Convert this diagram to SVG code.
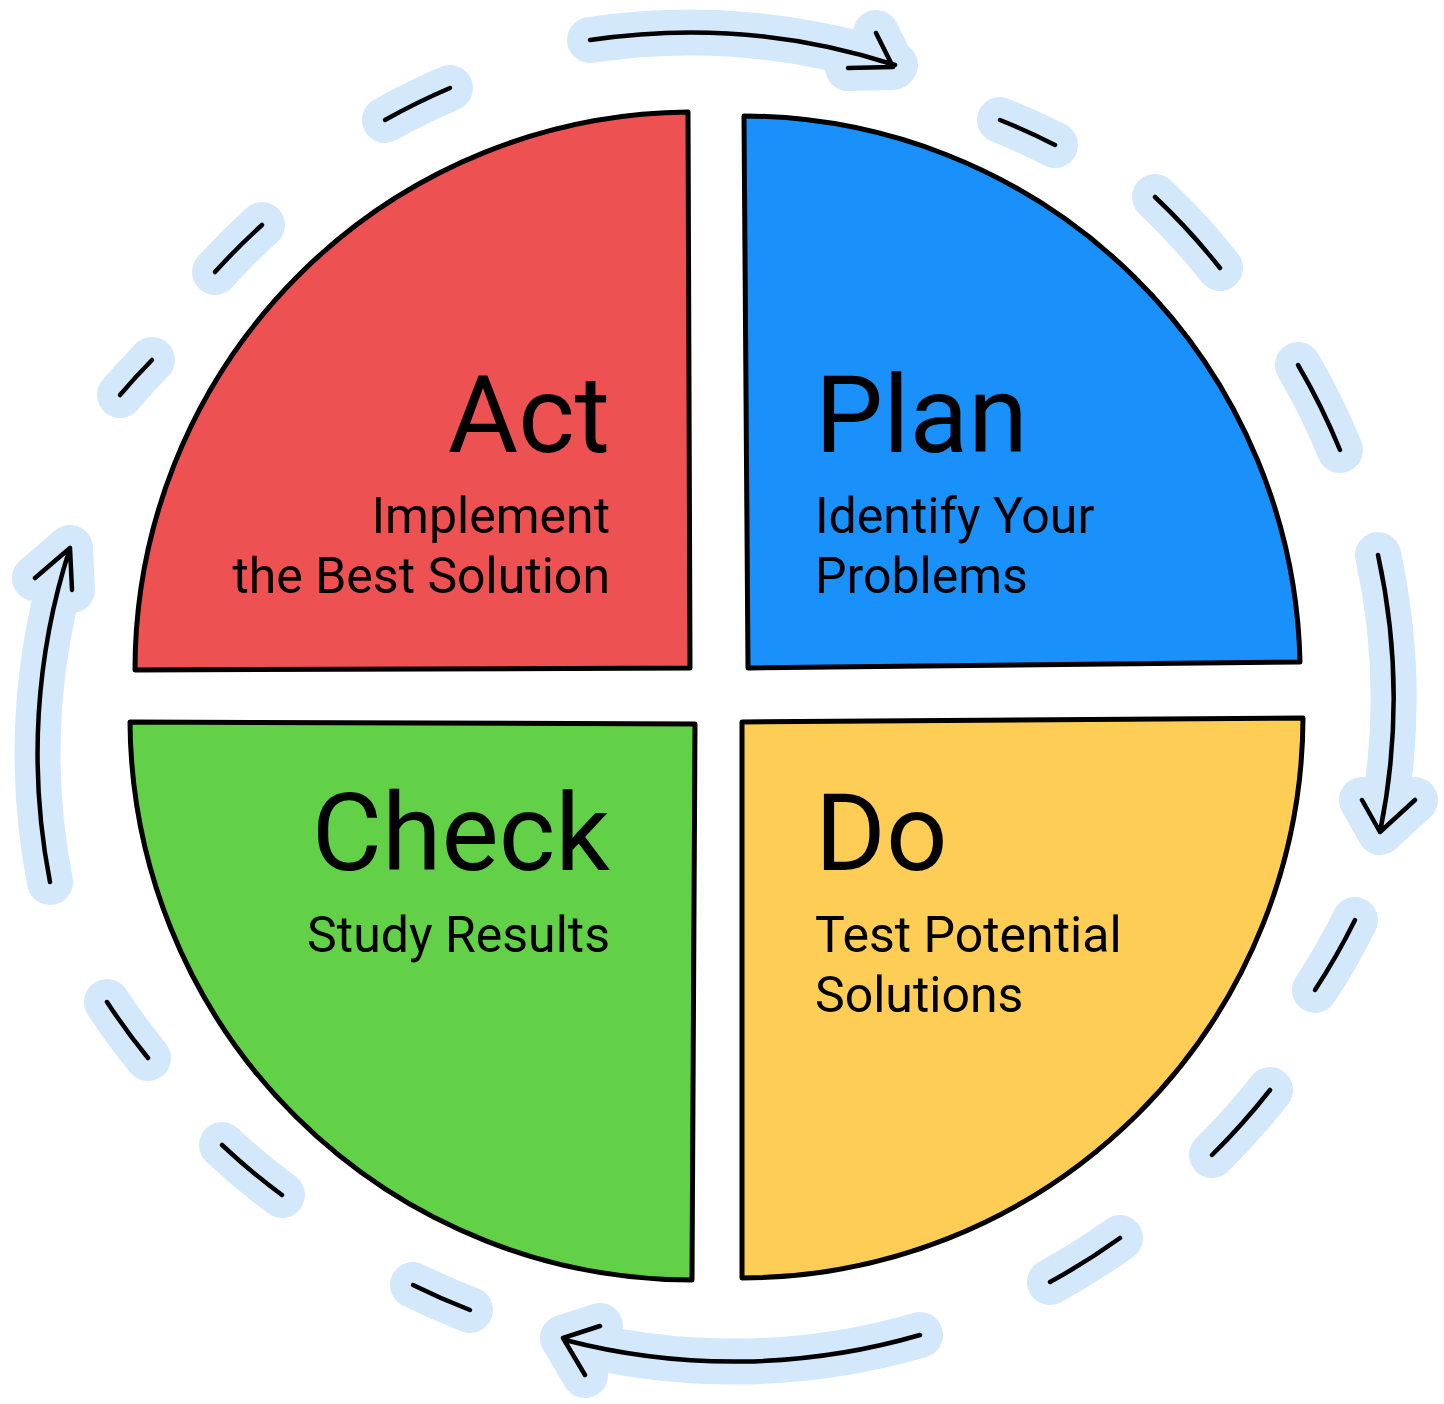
<svg xmlns="http://www.w3.org/2000/svg" width="1444" height="1404" viewBox="0 0 1444 1404">
<style>
.q{stroke:#000;stroke-width:5;stroke-linejoin:round}
.h{fill:none;stroke:#D4E8FB;stroke-width:46;stroke-linecap:round;stroke-linejoin:round}
.l{fill:none;stroke:#000;stroke-width:4.5;stroke-linecap:round;stroke-linejoin:round}
.t{font-family:Roboto,"Liberation Sans",sans-serif;fill:#000}
.big{font-size:108px}
.sm{font-size:50px}
</style>
<rect width="1444" height="1404" fill="#fff"/>
<defs>
<g id="ring">
<path d="M590,40 A668,668 0 0 1 895,65 M848,68 L893,67 L876,33"/>
<path d="M1378,555 A668,668 0 0 1 1380,832 M1362,800 L1380,832 L1415,800"/>
<path d="M920,1335 A668,668 0 0 1 565,1340 M600,1326 L563,1338 L585,1375"/>
<path d="M50,882 A668,668 0 0 1 70,548 M35,578 L70,548 L72,590"/>
<path d="M1000,120 A668,668 0 0 1 1055,145"/>
<path d="M1155,197 A668,668 0 0 1 1220,268"/>
<path d="M1298,365 A668,668 0 0 1 1340,450"/>
<path d="M1355,920 A668,668 0 0 1 1315,990"/>
<path d="M1270,1090 A668,668 0 0 1 1212,1155"/>
<path d="M1120,1238 A668,668 0 0 1 1050,1282"/>
<path d="M470,1310 A668,668 0 0 1 413,1285"/>
<path d="M282,1195 A668,668 0 0 1 222,1145"/>
<path d="M148,1058 A668,668 0 0 1 107,1002"/>
<path d="M120,395 A668,668 0 0 1 152,360"/>
<path d="M215,272 A668,668 0 0 1 262,225"/>
<path d="M385,120 A668,668 0 0 1 450,88"/>
</g>
</defs>
<g id="connectors">
<use href="#ring" class="h"/>
<use href="#ring" class="l"/>
</g>
<g id="act">
<path class="q" fill="#EE5152" d="M688,112 L690,668 L135,670 A558,558 0 0 1 688,112 Z"/>
<text class="t big" x="610" y="452" text-anchor="end">Act</text>
<text class="t sm" x="610" y="533" text-anchor="end">Implement</text>
<text class="t sm" x="610" y="593" text-anchor="end">the Best Solution</text>
</g>
<g id="plan">
<path class="q" fill="#1990FA" d="M744,116 A558,558 0 0 1 1300,662 L748,668 Z"/>
<text class="t big" x="815" y="452">Plan</text>
<text class="t sm" x="815" y="533">Identify Your</text>
<text class="t sm" x="815" y="593">Problems</text>
</g>
<g id="check">
<path class="q" fill="#62D147" d="M130,722 L695,724 L692,1280 A562,562 0 0 1 130,722 Z"/>
<text class="t big" x="610" y="870" text-anchor="end">Check</text>
<text class="t sm" x="610" y="952" text-anchor="end">Study Results</text>
</g>
<g id="do">
<path class="q" fill="#FDCD55" d="M742,722 L1303,718 A562,562 0 0 1 742,1278 Z"/>
<text class="t big" x="815" y="870">Do</text>
<text class="t sm" x="815" y="952">Test Potential</text>
<text class="t sm" x="815" y="1012">Solutions</text>
</g>
</svg>
